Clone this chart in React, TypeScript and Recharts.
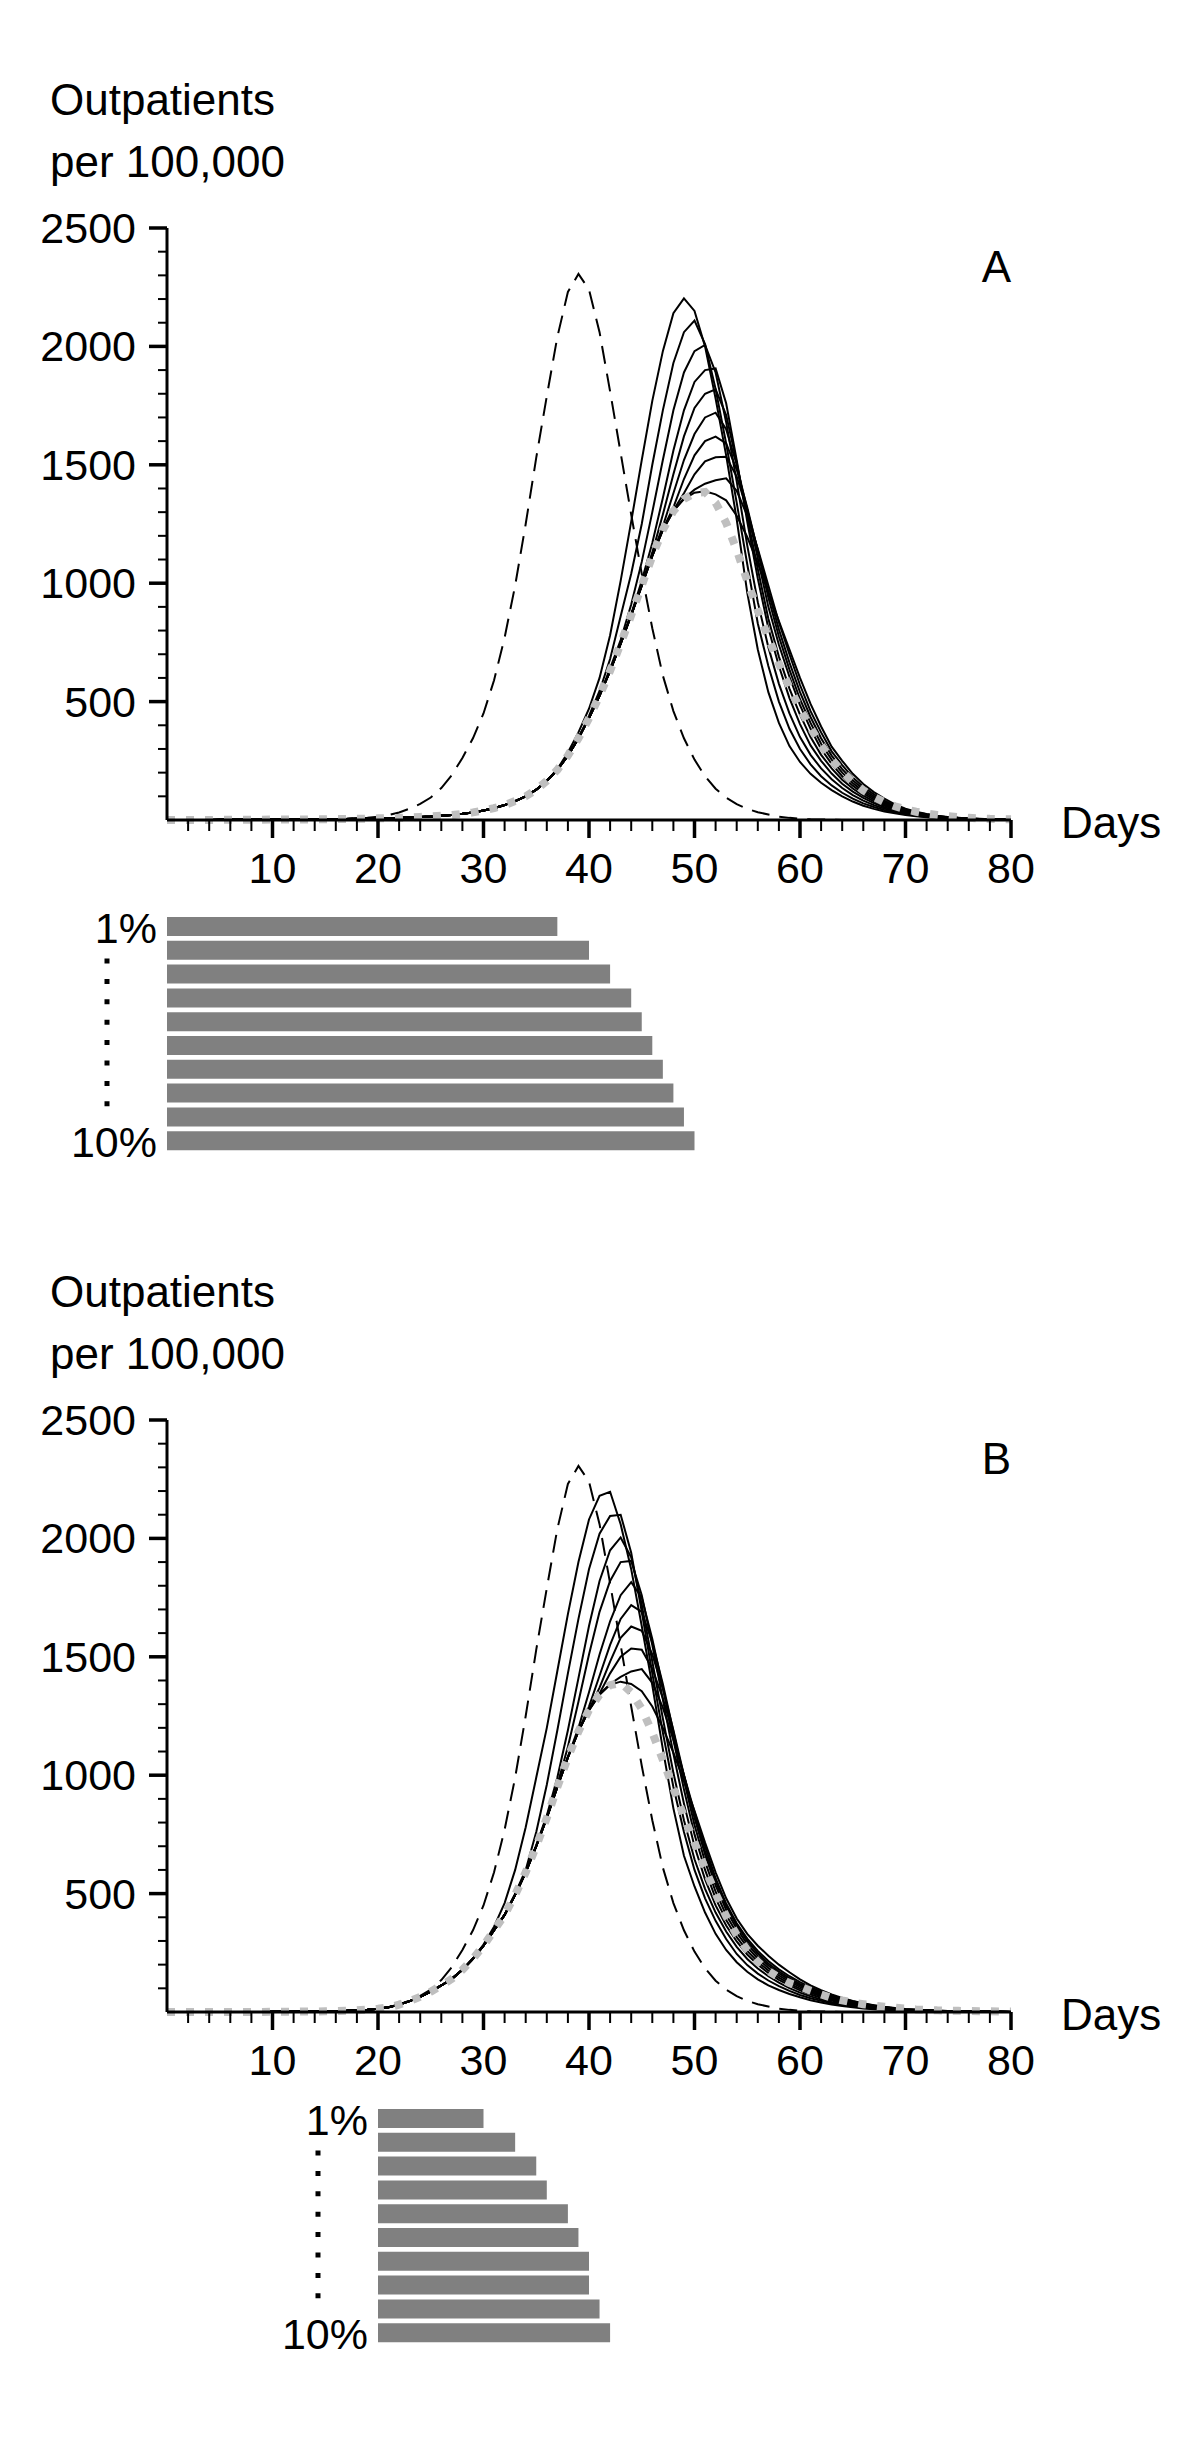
import React from "react";
import { LineChart, Line, XAxis, YAxis, BarChart, Bar, LabelList } from "recharts";

const FONT = '"Liberation Sans", Arial, Helvetica, sans-serif';

// x categories (days) and tick lists
const DAYS = Array.from({ length: 81 }, (_, i) => i);
const X_TICKS = [2, 4, 6, 8, 10, 12, 14, 16, 18, 20, 22, 24, 26, 28, 30, 32, 34, 36, 38, 40, 42, 44, 46, 48, 50, 52, 54, 56, 58, 60, 62, 64, 66, 68, 70, 72, 74, 76, 78, 80];
const Y_TICKS = [100, 200, 300, 400, 500, 600, 700, 800, 900, 1000, 1100, 1200, 1300, 1400, 1500, 1600, 1700, 1800, 1900, 2000, 2100, 2200, 2300, 2400, 2500];
const STOCK_LABELS = ["1%", "2%", "3%", "4%", "5%", "6%", "7%", "8%", "9%", "10%"];

// no intervention (dashed), days 0..80
const NO_TREATMENT = [
  0, 0, 0, 0, 0, 0, 0, 0, 0, 0,
  1, 1, 1, 2, 2, 3, 4, 5, 7, 10,
  14, 21, 32, 48, 68, 95, 135, 190, 262, 345,
  450, 590, 770, 990, 1250, 1530, 1790, 2040, 2230, 2306,
  2240, 2060, 1810, 1550, 1290, 1040, 810, 610, 460, 345,
  255, 185, 132, 94, 67, 47, 33, 23, 14, 9,
  5, 3, 2, 1, 0, 0, 0, 0, 0, 0,
  0, 0, 0, 0, 0, 0, 0, 0, 0, 0,
  0,
];

// unlimited stockpile (grey dotted), days 0..80
const FULL_A = [
  0, 0, 0, 0, 0, 1, 1, 1, 1, 1,
  2, 2, 2, 2, 3, 3, 4, 4, 5, 6,
  7, 8, 9, 11, 13, 15, 18, 21, 26, 32,
  40, 50, 63, 80, 100, 128, 165, 212, 272, 345,
  430, 525, 630, 745, 865, 990, 1115, 1225, 1305, 1355,
  1380, 1385, 1340, 1255, 1140, 1010, 885, 770, 660, 560,
  470, 390, 315, 255, 205, 160, 125, 97, 75, 58,
  45, 35, 27, 21, 16, 12, 9, 7, 5, 4,
  3,
];
const FULL_B = [
  0, 0, 0, 0, 0, 0, 0, 0, 0, 0,
  1, 1, 1, 2, 2, 3, 4, 5, 7, 10,
  14, 20, 31, 46, 64, 86, 112, 140, 178, 225,
  280, 345, 410, 495, 590, 700, 820, 950, 1075, 1185,
  1275, 1340, 1380, 1390, 1350, 1280, 1180, 1065, 945, 825,
  715, 605, 500, 405, 325, 262, 212, 174, 145, 122,
  108, 90, 74, 60, 49, 40, 33, 27, 22, 18,
  14, 11, 9, 7, 6, 5, 4, 3, 3, 2,
  2,
];

// panel A: treatment from day 0, stockpile runs out on these days
const START_A = 0;
const STOCKOUT_A = [37, 40, 42, 44, 45, 46, 47, 48, 49, 50];
// each run from its stock-out day to day 80
const A1 = [215, 285, 370, 470, 600, 780, 1010, 1260, 1520, 1770, 1980, 2140, 2203, 2150, 2000, 1780, 1540, 1270, 960, 720, 540, 410, 312, 245, 195, 157, 126, 100, 78, 60, 47, 36, 28, 21, 16, 12, 9, 7, 5, 4, 3, 2, 2, 1];
const A2 = [440, 545, 680, 860, 1040, 1250, 1500, 1730, 1930, 2060, 2109, 2010, 1820, 1590, 1340, 1080, 830, 650, 500, 385, 300, 235, 185, 146, 115, 90, 70, 55, 42, 32, 24, 18, 13, 10, 7, 5, 4, 3, 2, 1, 1];
const A3 = [640, 760, 910, 1090, 1300, 1520, 1730, 1890, 1980, 2006, 1890, 1680, 1430, 1160, 920, 730, 575, 450, 350, 275, 218, 172, 135, 105, 82, 63, 48, 36, 27, 20, 15, 11, 8, 6, 4, 3, 2, 2, 1];
const A4 = [870, 1010, 1170, 1360, 1560, 1730, 1850, 1900, 1907, 1760, 1520, 1260, 1020, 810, 650, 515, 405, 315, 250, 196, 153, 120, 93, 71, 54, 40, 30, 22, 16, 12, 8, 6, 4, 3, 2, 2, 1];
const A5 = [995, 1130, 1290, 1460, 1620, 1740, 1800, 1819, 1710, 1510, 1280, 1060, 850, 690, 555, 445, 350, 275, 218, 170, 133, 103, 79, 60, 45, 33, 24, 18, 13, 9, 7, 5, 3, 2, 2, 1];
const A6 = [1120, 1240, 1380, 1520, 1630, 1700, 1720, 1650, 1500, 1310, 1105, 900, 740, 605, 485, 385, 300, 237, 185, 145, 112, 86, 65, 49, 36, 27, 19, 14, 10, 7, 5, 4, 3, 2, 1];
const A7 = [1228, 1320, 1440, 1540, 1600, 1619, 1590, 1480, 1320, 1135, 940, 775, 635, 510, 410, 322, 255, 200, 156, 121, 93, 70, 53, 39, 29, 21, 15, 11, 8, 5, 4, 3, 2, 1];
const A8 = [1308, 1380, 1460, 1515, 1532, 1534, 1450, 1310, 1140, 965, 805, 665, 540, 435, 345, 272, 215, 168, 130, 100, 76, 57, 42, 31, 22, 16, 12, 8, 6, 4, 3, 2, 1];
const A9 = [1358, 1395, 1420, 1435, 1443, 1390, 1285, 1145, 990, 835, 700, 570, 460, 370, 290, 232, 180, 140, 108, 82, 61, 45, 33, 24, 17, 12, 9, 6, 4, 3, 2, 2];
const A10 = [1382, 1388, 1375, 1350, 1285, 1195, 1085, 960, 840, 720, 600, 490, 395, 310, 250, 195, 152, 118, 90, 66, 48, 35, 25, 18, 13, 9, 7, 5, 3, 2, 2];

// panel B: treatment from day 20
const START_B = 20;
const STOCKOUT_B = [30, 33, 35, 36, 38, 39, 40, 40, 41, 42];
const B1 = [285, 360, 460, 600, 780, 990, 1200, 1440, 1680, 1900, 2080, 2180, 2197, 2060, 1870, 1630, 1380, 1110, 860, 660, 530, 420, 330, 262, 210, 170, 138, 112, 93, 76, 62, 50, 40, 32, 25, 20, 15, 12, 9, 7, 5, 4, 3, 2, 2, 1, 1, 1, 1, 0, 0];
const B2 = [500, 600, 760, 960, 1190, 1430, 1660, 1870, 2020, 2095, 2100, 1940, 1690, 1430, 1180, 950, 760, 600, 480, 385, 308, 245, 198, 162, 133, 109, 89, 72, 58, 47, 37, 29, 23, 18, 14, 11, 8, 6, 5, 4, 3, 2, 2, 1, 1, 1, 1, 0];
const B3 = [705, 830, 990, 1190, 1410, 1630, 1820, 1950, 2004, 1920, 1720, 1480, 1240, 1010, 810, 645, 520, 420, 340, 275, 224, 184, 151, 124, 101, 82, 66, 53, 42, 33, 26, 20, 16, 12, 9, 7, 5, 4, 3, 2, 2, 1, 1, 1, 1, 0];
const B4 = [825, 960, 1120, 1310, 1510, 1690, 1820, 1900, 1905, 1760, 1550, 1320, 1090, 880, 700, 560, 450, 365, 298, 243, 200, 165, 136, 112, 91, 74, 60, 48, 38, 30, 23, 18, 14, 11, 8, 6, 5, 4, 3, 2, 2, 1, 1, 1, 0];
const B5 = [1078, 1200, 1350, 1510, 1650, 1760, 1815, 1750, 1575, 1370, 1150, 940, 750, 600, 480, 388, 316, 258, 212, 175, 145, 120, 99, 81, 66, 53, 42, 33, 26, 20, 16, 12, 9, 7, 5, 4, 3, 2, 2, 1, 1, 1, 0];
const B6 = [1188, 1290, 1420, 1550, 1660, 1718, 1690, 1560, 1385, 1185, 980, 790, 635, 508, 410, 335, 274, 225, 186, 154, 128, 106, 87, 71, 58, 46, 36, 28, 22, 17, 13, 10, 8, 6, 4, 3, 2, 2, 1, 1, 1, 0];
const B7 = [1278, 1370, 1480, 1580, 1628, 1610, 1510, 1365, 1190, 1000, 820, 665, 535, 432, 352, 288, 237, 196, 163, 136, 113, 93, 76, 62, 50, 39, 31, 24, 18, 14, 11, 8, 6, 5, 4, 3, 2, 1, 1, 1, 0];
const B8 = [1276, 1345, 1430, 1500, 1535, 1530, 1450, 1325, 1170, 1000, 830, 680, 550, 447, 365, 300, 248, 205, 171, 143, 119, 99, 81, 66, 53, 42, 33, 26, 20, 15, 11, 9, 7, 5, 4, 3, 2, 2, 1, 1, 0];
const B9 = [1342, 1385, 1415, 1438, 1448, 1390, 1285, 1150, 1000, 845, 700, 565, 458, 375, 310, 258, 215, 180, 151, 126, 105, 86, 70, 56, 45, 35, 27, 21, 16, 12, 9, 7, 5, 4, 3, 2, 2, 1, 1, 0];
const B10 = [1382, 1395, 1385, 1355, 1290, 1200, 1095, 975, 850, 715, 590, 480, 395, 330, 280, 238, 200, 168, 138, 112, 92, 74, 59, 47, 37, 29, 22, 17, 13, 10, 8, 6, 4, 3, 2, 2, 1, 1, 1];

const RUNS_A = [A1, A2, A3, A4, A5, A6, A7, A8, A9, A10];
const RUNS_B = [B1, B2, B3, B4, B5, B6, B7, B8, B9, B10];

// a run follows the unlimited curve until its stock runs out
function buildRows(full: number[], runs: number[][], stockout: number[]) {
  return DAYS.map((day, i) => {
    const row: Record<string, number> = { day, none: NO_TREATMENT[i], full: full[i] };
    runs.forEach((run, k) => {
      row["s" + k] = i < stockout[k] ? full[i] : run[i - stockout[k]];
    });
    return row;
  });
}

function buildBars(start: number, stockout: number[]) {
  return STOCK_LABELS.map((label, i) => ({ label, range: [start, stockout[i]] }));
}

const XTick = (props: any) => {
  const { x, y, payload } = props;
  const v = payload.value;
  const major = v % 10 === 0;
  return (
    <g>
      <line x1={x} x2={x} y1={y} y2={y + (major ? 18 : 11)} stroke="#000" strokeWidth={major ? 3.5 : 2} />
      {major && (
        <text x={x} y={y + 63} textAnchor="middle" fontSize={43} fontFamily={FONT} fill="#000">
          {v}
        </text>
      )}
    </g>
  );
};

const YTick = (props: any) => {
  const { x, y, payload } = props;
  const v = payload.value;
  const major = v % 500 === 0;
  return (
    <g>
      <line x1={x} x2={x - (major ? 18 : 9)} y1={y} y2={y} stroke="#000" strokeWidth={major ? 3.5 : 2} />
      {major && (
        <text x={x - 31} y={y + 15} textAnchor="end" fontSize={43} fontFamily={FONT} fill="#000">
          {v}
        </text>
      )}
    </g>
  );
};

const StockLabel = (props: any) => {
  const { x, y, height, index, value } = props;
  const last = STOCK_LABELS.length - 1;
  const cy = y + height / 2;
  if (index !== 0 && index !== last) return null;
  return (
    <g>
      <text x={x - 10} y={cy + 16} textAnchor="end" fontSize={43} fontFamily={FONT} fill="#000">
        {value}
      </text>
      {index === 0 && (
        <line x1={x - 60} x2={x - 60} y1={cy + 32} y2={cy + 180} stroke="#000" strokeWidth={5} strokeDasharray="5 15.4" />
      )}
    </g>
  );
};

function Panel({ top, full, runs, stockout, start, letter }: any) {
  const rows = buildRows(full, runs, stockout);
  const bars = buildBars(start, stockout);
  return (
    <>
      <div style={{ position: "absolute", left: 0, top }}>
        <LineChart width={1200} height={900} data={rows} margin={{ top: 228, right: 189, left: 20, bottom: 20 }}>
          <XAxis
            dataKey="day"
            type="number"
            domain={[0, 80]}
            ticks={X_TICKS}
            interval={0}
            height={60}
            tickSize={0}
            tickMargin={0}
            tickLine={false}
            axisLine={{ stroke: "#000", strokeWidth: 3 }}
            tick={<XTick />}
          />
          <YAxis
            type="number"
            domain={[0, 2500]}
            ticks={Y_TICKS}
            interval={0}
            width={147}
            tickSize={0}
            tickMargin={0}
            tickLine={false}
            axisLine={{ stroke: "#000", strokeWidth: 3 }}
            tick={<YTick />}
          />
          {runs.map((_: number[], k: number) => (
            <Line
              key={k}
              type="linear"
              dataKey={"s" + k}
              stroke="#000"
              strokeWidth={2}
              dot={false}
              activeDot={false}
              isAnimationActive={false}
            />
          ))}
          <Line type="linear" dataKey="none" stroke="#000" strokeWidth={2} strokeDasharray="18 10" dot={false} activeDot={false} isAnimationActive={false} />
          <Line type="linear" dataKey="full" stroke="#bfbfbf" strokeWidth={8} strokeDasharray="8 11" dot={false} activeDot={false} isAnimationActive={false} />
        </LineChart>
      </div>
      <div style={{ position: "absolute", left: 0, top: top + 885 }}>
        <BarChart width={1200} height={298} data={bars} layout="vertical" margin={{ top: 30, right: 189, left: 167, bottom: 30 }}>
          <XAxis type="number" domain={[0, 80]} hide />
          <YAxis type="category" dataKey="label" hide />
          <Bar dataKey="range" fill="#808080" barSize={19} isAnimationActive={false}>
            <LabelList dataKey="label" content={<StockLabel />} />
          </Bar>
        </BarChart>
      </div>
      <svg style={{ position: "absolute", left: 0, top }} width={1200} height={900}>
        <g fontFamily={FONT} fontSize={44} fill="#000">
          <text x={50} y={115}>Outpatients</text>
          <text x={50} y={177}>per 100,000</text>
          <text x={1011} y={282} textAnchor="end">{letter}</text>
          <text x={1061} y={838}>Days</text>
        </g>
      </svg>
    </>
  );
}

export default function App() {
  return (
    <div style={{ position: "absolute", left: 0, top: 0, width: 1200, height: 2444, background: "#fff", overflow: "hidden" }}>
      <Panel top={0} full={FULL_A} runs={RUNS_A} stockout={STOCKOUT_A} start={START_A} letter="A" />
      <Panel top={1192} full={FULL_B} runs={RUNS_B} stockout={STOCKOUT_B} start={START_B} letter="B" />
    </div>
  );
}
